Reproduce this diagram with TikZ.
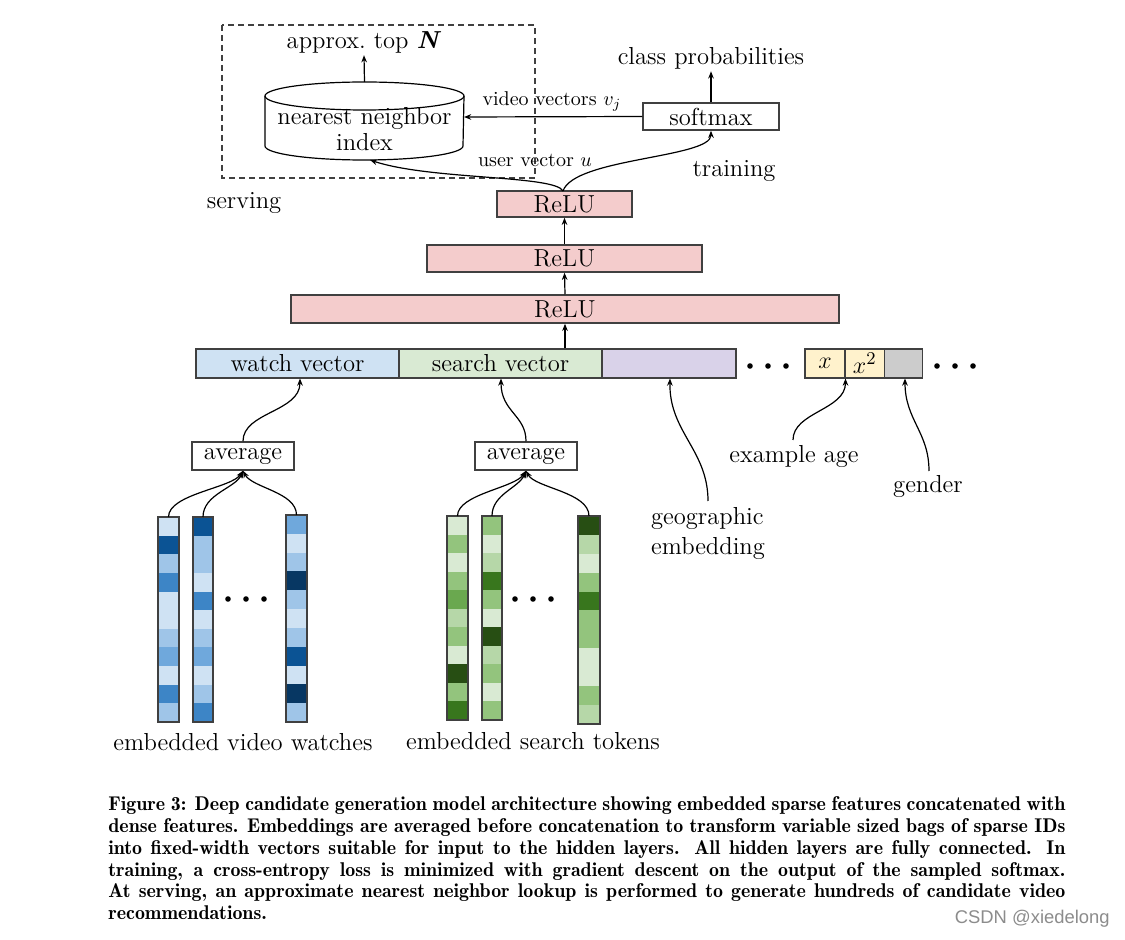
\documentclass[tikz,border=0pt]{standalone}
\usepackage{fontspec}
\newfontfamily\wmfont{Liberation Sans}
\usetikzlibrary{arrows.meta}
\definecolor{bA}{HTML}{CFE2F3}
\definecolor{bB}{HTML}{9FC5E8}
\definecolor{bC}{HTML}{6FA8DC}
\definecolor{bD}{HTML}{3D85C6}
\definecolor{bE}{HTML}{0B5394}
\definecolor{bF}{HTML}{073763}
\definecolor{gA}{HTML}{D9EAD3}
\definecolor{gB}{HTML}{B6D7A8}
\definecolor{gC}{HTML}{93C47D}
\definecolor{gD}{HTML}{6AA84F}
\definecolor{gE}{HTML}{38761D}
\definecolor{gF}{HTML}{274E13}
\definecolor{pinkfill}{HTML}{F4CCCC}
\definecolor{purplefill}{HTML}{D9D2E9}
\definecolor{yellowfill}{HTML}{FFF2CC}
\definecolor{grayfill}{HTML}{CCCCCC}
\definecolor{edge}{HTML}{404040}
\definecolor{wmgray}{HTML}{8C8C8C}
\newcommand{\labfont}{\fontsize{12.3}{14.5}\selectfont}
\newcommand{\smallfont}{\fontsize{10}{12}\selectfont}
\newcommand{\embcol}[5]{%
  \foreach \c [count=\i from 0] in {#5} {\fill[\c] ({#1},{#2+\i*#4}) rectangle ({#1+#3},{#2+\i*#4+#4});}
  \draw[edge, line width=0.75pt] ({#1},{#2}) rectangle ({#1+#3},{#2+11*#4});}
\begin{document}
\begin{tikzpicture}[x=0.5pt,y=-0.5pt,
  box/.style={draw=edge, line width=0.75pt, inner sep=0pt, font=\labfont},
  txt/.style={inner sep=1pt, font=\labfont},
  conn/.style={-{Stealth[length=3.6pt,width=2.8pt]}, line width=0.6pt, black},
  dotmark/.style={fill=black, circle, inner sep=0pt, minimum size=2.8pt}]
\useasboundingbox[fill=white] (0,0) rectangle (1125,940);

% serving region
\draw[edge, dashed, dash pattern=on 3pt off 2pt, line width=0.6pt] (222,25) rectangle (535,178);
\node[txt] (serving) at (244,203) {serving};

% cylinder
\path[draw=black, line width=0.6pt, fill=white] (265,96) -- (265,146) arc[start angle=180, end angle=360, x radius=49.5pt, y radius=7pt] -- (464,96);
\draw[black, line width=0.6pt] (364.5,96) ellipse [x radius=49.75pt, y radius=7pt];
\node[txt, align=center, font=\fontsize{12.3}{12.6}\selectfont] (nn) at (364.5,129) {nearest neighbor\\index};
\coordinate (nntop) at (364.5,82);
\coordinate (nnE) at (464,117);
\coordinate (nnS) at (370,160);
\node[txt] (topn) at (364,42) {approx.\ top \textbf{\textit{N}}};
\draw[conn] (nntop) -- (topn.south);

% softmax
\node[box, minimum width=68pt, minimum height=13.5pt] (softmax) at (711,116.5) {softmax};
\node[txt] (classp) at (711,58) {class probabilities};
\draw[conn] (softmax.north) -- (classp.south);
\draw[conn] (softmax.west) -- (nnE);
\node[txt, font=\smallfont] (vv) at (552,101) {video vectors $v_j$};
\node[txt, font=\smallfont] (uv) at (535,160) {user vector $u$};
\node[txt] (training) at (734,171) {training};

% ReLU layers
\node[box, fill=pinkfill, minimum width=67.5pt, minimum height=13pt] (relu1) at (564.5,204) {ReLU};
\node[box, fill=pinkfill, minimum width=137.5pt, minimum height=13.5pt] (relu2) at (564.5,258.5) {ReLU};
\node[box, fill=pinkfill, minimum width=274pt, minimum height=14pt] (relu3) at (565,309) {ReLU};
\draw[conn] (relu2.north) -- (relu1.south);
\draw[conn] (relu3.north) -- (relu2.south);
\coordinate (rtop) at (563,191);
\draw[conn] (rtop) .. controls (555,175) and (430,180) .. (nnS);
\draw[conn] (rtop) .. controls (574,158) and (711,158) .. (softmax.south);

% concatenated vector row
\node[box, fill=bA, minimum width=101.5pt, minimum height=14.5pt] (watch) at (297.5,363.5) {watch vector};
\node[box, fill=gA, minimum width=101.5pt, minimum height=14.5pt] (search) at (500.5,363.5) {search vector};
\node[box, fill=purplefill, minimum width=67pt, minimum height=14.5pt] (geo) at (669,363.5) {};
\node[box, fill=yellowfill, minimum width=20pt, minimum height=14.5pt] (xa) at (825,363.5) {$x$};
\node[box, fill=yellowfill, minimum width=19.5pt, minimum height=14.5pt] (xb) at (864.75,363.5) {$x^2$};
\node[box, fill=grayfill, minimum width=19pt, minimum height=14.5pt] (gen) at (903.25,363.5) {};
\draw[conn] (relu3.south |- search.north) -- (relu3.south);
\foreach \xx in {750,768,786} \node[dotmark] at (\xx,366) {};
\foreach \xx in {937,955,973} \node[dotmark] at (\xx,366) {};

% average boxes
\node[box, minimum width=51pt, minimum height=14pt] (avg1) at (243,456) {average};
\node[box, minimum width=51pt, minimum height=14pt] (avg2) at (526,456) {average};
\coordinate (watchin) at (300,378.5);
\coordinate (searchin) at (501,378.5);
\coordinate (geoin) at (670,378.5);
\coordinate (agein) at (845.5,378.5);
\coordinate (genin) at (905,378.5);
\draw[conn] (avg1.north) .. controls (243,412) and (300,412) .. (watchin);
\draw[conn] (avg2.north) .. controls (526,415) and (501,412) .. (searchin);

% feature labels
\node[txt, align=left, font=\fontsize{12.3}{15}\selectfont] (geolab) at (708,533) {geographic\\embedding};
\node[txt] (agelab) at (794,456) {example age};
\node[txt] (genlab) at (928,486) {gender};
\coordinate (geostart) at (708,501);
\coordinate (agestart) at (793,440);
\coordinate (genstart) at (929,471);
\draw[conn] (geostart) .. controls (708,450) and (669,432) .. (geoin);
\draw[conn] (agestart) .. controls (793,412) and (845.5,410) .. (agein);
\draw[conn] (genstart) .. controls (929,432) and (905,420) .. (genin);

% embedding columns (video watches)
\embcol{158}{517}{21}{18.64}{bA,bE,bB,bD,bA,bA,bB,bC,bA,bD,bB}
\embcol{193}{517}{20}{18.64}{bE,bB,bB,bA,bD,bA,bB,bC,bA,bB,bD}
\embcol{286}{515}{21}{18.82}{bC,bA,bB,bF,bB,bA,bB,bE,bA,bF,bB}
\coordinate (bw1) at (168.5,517);
\coordinate (bw2) at (203,517);
\coordinate (bw3) at (296.5,515);
\draw[conn] (bw1) .. controls (168.5,494) and (232,488) .. (avg1.south);
\draw[conn] (bw2) .. controls (203,494) and (236,488) .. (avg1.south);
\draw[conn] (bw3) .. controls (296.5,492) and (252,488) .. (avg1.south);
\foreach \xx in {228,246,264} \node[dotmark] at (\xx,599) {};
\node[txt] (vwlab) at (243,742) {embedded video watches};

% embedding columns (search tokens)
\embcol{447}{516}{21}{18.55}{gA,gC,gA,gC,gD,gB,gC,gA,gF,gC,gE}
\embcol{482}{516}{20}{18.55}{gC,gA,gB,gE,gC,gA,gF,gB,gC,gA,gC}
\embcol{578}{516}{22}{18.9}{gF,gB,gA,gC,gE,gC,gC,gA,gA,gC,gB}
\coordinate (gs1) at (457.5,516);
\coordinate (gs2) at (492,516);
\coordinate (gs3) at (589,516);
\draw[conn] (gs1) .. controls (457.5,494) and (515,488) .. (avg2.south);
\draw[conn] (gs2) .. controls (492,494) and (519,488) .. (avg2.south);
\draw[conn] (gs3) .. controls (589,492) and (535,488) .. (avg2.south);
\foreach \xx in {515,533,551} \node[dotmark] at (\xx,599) {};
\node[txt] (stlab) at (533,741) {embedded search tokens};

% caption
\node[anchor=base west, inner sep=0pt] (caption) at (108,811) {\parbox[t]{478.5pt}{\fontsize{9.95}{10.85}\fontseries{b}\selectfont Figure 3: Deep candidate generation model architecture showing embedded sparse features concatenated with\linebreak dense features. Embeddings are averaged before concatenation to transform variable sized bags of sparse IDs\linebreak into fixed-width vectors suitable for input to the hidden layers. All hidden layers are fully connected. In\linebreak training, a cross-entropy loss is minimized with gradient descent on the output of the sampled softmax.\linebreak At serving, an approximate nearest neighbor lookup is performed to generate hundreds of candidate video\linebreak recommendations.}};

% watermark
\node[anchor=east, inner sep=0pt, text=wmgray, font=\wmfont\fontsize{9.2}{11}\selectfont] (wm) at (1110,919) {CSDN @xiedelong};
\end{tikzpicture}
\end{document}
